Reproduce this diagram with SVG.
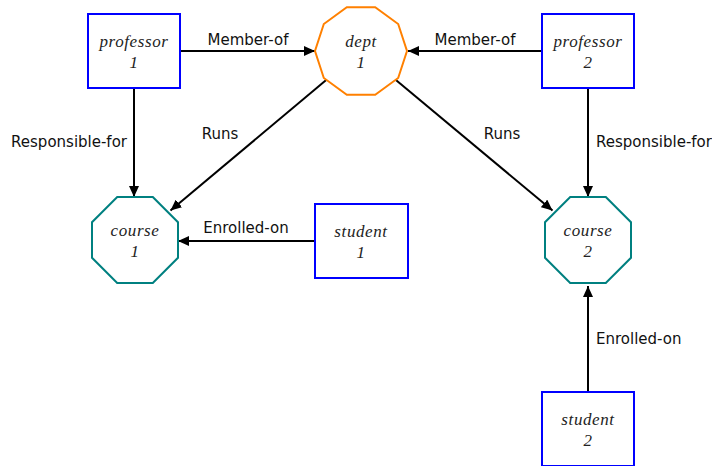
<svg xmlns="http://www.w3.org/2000/svg" width="712" height="466" viewBox="0 0 712 466">
  <style>
    .box { fill: #ffffff; stroke: #0000ff; stroke-width: 2; }
    .dept { fill: #ffffff; stroke: #ff8000; stroke-width: 2; }
    .course { fill: #ffffff; stroke: #008080; stroke-width: 2; }
    .name { font-family: "Liberation Serif", "DejaVu Serif", serif; font-style: italic; font-size: 17px; letter-spacing: 0.6px; fill: #222222; text-anchor: middle; }
    .edge { stroke: #000000; stroke-width: 2; fill: none; marker-end: url(#arrow); }
    .label { font-family: "DejaVu Sans", "Liberation Sans", sans-serif; font-size: 15px; fill: #111111; }
  </style>
  <defs>
    <marker id="arrow" markerUnits="userSpaceOnUse" markerWidth="12" markerHeight="10" refX="11" refY="5" orient="auto">
      <path d="M0,0 L11,5 L0,10 Z" fill="#000000"/>
    </marker>
  </defs>
  <rect width="712" height="466" fill="#ffffff"/>

  <g id="connectors">
    <line class="edge" x1="180" y1="51" x2="315" y2="51"/>
    <line class="edge" x1="542" y1="51" x2="408" y2="51"/>
    <line class="edge" x1="134" y1="88" x2="134" y2="197"/>
    <line class="edge" x1="588" y1="88" x2="588" y2="197"/>
    <line class="edge" x1="326.5" y1="79.8" x2="170.5" y2="210.5"/>
    <line class="edge" x1="395.6" y1="79.8" x2="552.5" y2="210.5"/>
    <line class="edge" x1="315" y1="241" x2="178" y2="241"/>
    <line class="edge" x1="588" y1="392" x2="588" y2="286"/>
    <text class="label" x="248" y="45" text-anchor="middle">Member-of</text>
    <text class="label" x="475" y="45" text-anchor="middle">Member-of</text>
    <text class="label" x="127" y="147" text-anchor="end">Responsible-for</text>
    <text class="label" x="596" y="147">Responsible-for</text>
    <text class="label" x="220" y="139" text-anchor="middle">Runs</text>
    <text class="label" x="502" y="139" text-anchor="middle">Runs</text>
    <text class="label" x="246" y="233" text-anchor="middle">Enrolled-on</text>
    <text class="label" x="596" y="344">Enrolled-on</text>
  </g>

  <g id="professor1">
    <rect class="box" x="88" y="14" width="92" height="74"/>
    <text class="name" x="134" y="47">professor</text>
    <text class="name" x="134" y="68">1</text>
  </g>

  <g id="professor2">
    <rect class="box" x="542" y="14" width="92" height="74"/>
    <text class="name" x="588" y="47">professor</text>
    <text class="name" x="588" y="68">2</text>
  </g>

  <g id="dept1">
    <!-- regular decagon, radius 46, centred at (361,51) -->
    <polygon class="dept" points="407,51 398.2,78 375.2,94.7 346.8,94.7 323.8,78 315,51 323.8,24 346.8,7.3 375.2,7.3 398.2,24"/>
    <text class="name" x="361" y="47">dept</text>
    <text class="name" x="361" y="68">1</text>
  </g>

  <g id="course1">
    <!-- regular octagon, apothem 43, centred at (135,240) -->
    <polygon class="course" points="152.8,197 178,222.2 178,257.8 152.8,283 117.2,283 92,257.8 92,222.2 117.2,197"/>
    <text class="name" x="135" y="236">course</text>
    <text class="name" x="135" y="257">1</text>
  </g>

  <g id="course2">
    <polygon class="course" points="605.8,197 631,222.2 631,257.8 605.8,283 570.2,283 545,257.8 545,222.2 570.2,197"/>
    <text class="name" x="588" y="236">course</text>
    <text class="name" x="588" y="257">2</text>
  </g>

  <g id="student1">
    <rect class="box" x="315" y="204" width="93" height="74"/>
    <text class="name" x="361" y="237">student</text>
    <text class="name" x="361" y="258">1</text>
  </g>

  <g id="student2">
    <rect class="box" x="542" y="392" width="92" height="74"/>
    <text class="name" x="588" y="425">student</text>
    <text class="name" x="588" y="446">2</text>
  </g>
</svg>
